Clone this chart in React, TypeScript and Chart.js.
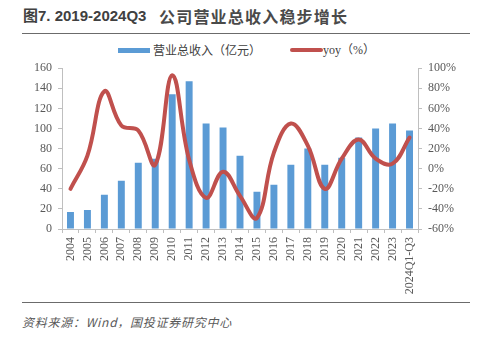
import React, { useEffect, useRef } from "react";
import { Chart, registerables } from "chart.js";

Chart.register(...registerables);

const categories = ["2004","2005","2006","2007","2008","2009","2010","2011","2012","2013","2014","2015","2016","2017","2018","2019","2020","2021","2022","2023","2024Q1-Q3"];
const revenue = [17, 19, 34, 48, 66, 70, 134, 147, 105, 101, 73, 37, 44, 64, 80, 64, 71, 91, 100, 105, 98];
const yoy = [-20, 13, 77, 43, 38, 4, 93, 9, -29, -3, -27, -49, 16, 45, 23, -20, 10, 29, 10, 5, 31];

const TICK_FONT = { family: "'Liberation Serif', 'Times New Roman', serif", size: 12 };
const AXIS_COLOR = "#BFBFBF";
const TEXT_COLOR = "#595959";

export default function App() {
  const ref = useRef<HTMLCanvasElement | null>(null);
  useEffect(() => {
    if (!ref.current) return;
    const chart = new Chart(ref.current, {
      data: {
        labels: categories,
        datasets: [
          {
            type: "line",
            label: "yoy（%）",
            data: yoy,
            yAxisID: "y1",
            borderColor: "#C0504D",
            backgroundColor: "#C0504D",
            borderWidth: 4,
            pointRadius: 0,
            tension: 0.4,
            borderCapStyle: "round",
            borderJoinStyle: "round",
            order: 0,
          } as any,
          {
            type: "bar",
            label: "营业总收入（亿元）",
            data: revenue,
            yAxisID: "y",
            backgroundColor: "#5B9BD5",
            barPercentage: 0.41,
            categoryPercentage: 1,
            order: 1,
          } as any,
        ],
      },
      options: {
        animation: false,
        responsive: false,
        maintainAspectRatio: false,
        layout: { padding: { top: 12.5, left: 0, right: 0, bottom: 0 } },
        plugins: { legend: { display: false }, tooltip: { enabled: false } },
        scales: {
          x: {
            offset: true,
            grid: { display: true, drawOnChartArea: false, offset: true, tickLength: 4, color: AXIS_COLOR },
            border: { color: AXIS_COLOR },
            ticks: { maxRotation: 90, minRotation: 90, autoSkip: false, font: TICK_FONT, color: TEXT_COLOR, padding: 4 },
            afterFit: (s: any) => { s.height = 71; },
          },
          y: {
            position: "left",
            min: 0,
            max: 160,
            grid: { display: true, drawOnChartArea: false, tickLength: 4, color: AXIS_COLOR },
            border: { color: AXIS_COLOR },
            ticks: { stepSize: 20, font: TICK_FONT, color: TEXT_COLOR, padding: 6 },
            afterFit: (s: any) => { s.width = 62; },
          },
          y1: {
            position: "right",
            min: -60,
            max: 100,
            grid: { display: true, drawOnChartArea: false, tickLength: 4, color: AXIS_COLOR },
            border: { color: AXIS_COLOR },
            ticks: { stepSize: 20, font: TICK_FONT, color: TEXT_COLOR, padding: 6, callback: (v: any) => v + "%" },
            afterFit: (s: any) => { s.width = 59; },
          },
        },
      },
    });
    return () => chart.destroy();
  }, []);

  const cjk = "'Noto Sans CJK SC', 'Liberation Serif', serif";
  return (
    <div style={{ position: "absolute", left: 0, top: 0, width: 477, height: 340, background: "#fff", overflow: "hidden" }}>
      <div style={{ position: "absolute", left: 23, top: 6, fontFamily: "'Liberation Sans', 'Noto Sans CJK SC', sans-serif", fontWeight: "bold", fontSize: 15, lineHeight: "20px", color: "#404040", whiteSpace: "nowrap" }}>
        图7. 2019-2024Q3
      </div>
      <div style={{ position: "absolute", left: 159, top: 5, fontFamily: "'Noto Sans CJK SC', sans-serif", fontWeight: "bold", fontSize: 16, letterSpacing: 1.2, lineHeight: "22px", color: "#4a4a4a", whiteSpace: "nowrap" }}>
        公司营业总收入稳步增长
      </div>
      <div style={{ position: "absolute", left: 22, top: 32.5, width: 448, height: 1.6, background: "#6b6b6b" }} />
      <div style={{ position: "absolute", left: 118, top: 48, width: 32, height: 5, background: "#5B9BD5" }} />
      <div style={{ position: "absolute", left: 153, top: 41, fontFamily: cjk, fontSize: 12, lineHeight: "18px", color: "#404040", whiteSpace: "nowrap" }}>营业总收入（亿元）</div>
      <div style={{ position: "absolute", left: 290, top: 48, width: 33, height: 4, borderRadius: 2, background: "#C0504D" }} />
      <div style={{ position: "absolute", left: 323, top: 41, fontFamily: "'Liberation Serif', 'Noto Sans CJK SC', serif", fontSize: 12, lineHeight: "18px", color: "#404040", whiteSpace: "nowrap" }}>yoy（%）</div>
      <canvas ref={ref} width={477} height={245} style={{ position: "absolute", left: 0, top: 55, width: 477, height: 245 }} />
      <div style={{ position: "absolute", left: 22, top: 301.5, width: 448, height: 1.6, background: "#6b6b6b" }} />
      <div style={{ position: "absolute", left: 22, top: 313, fontFamily: cjk, fontStyle: "italic", fontSize: 12, letterSpacing: 0.75, lineHeight: "18px", color: "#595959", whiteSpace: "nowrap" }}>资料来源：Wind，国投证券研究中心</div>
    </div>
  );
}
